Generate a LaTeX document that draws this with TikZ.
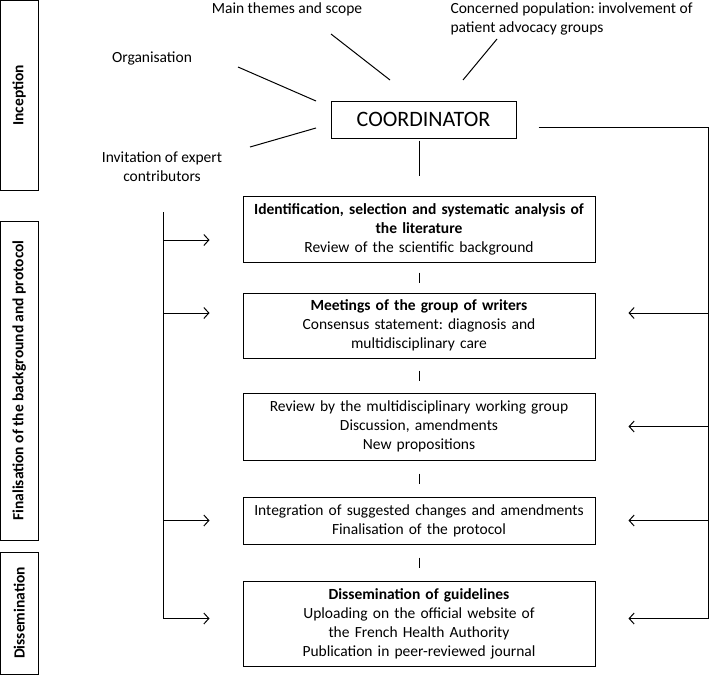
\documentclass[tikz,border=0pt]{standalone}
\usepackage{fontspec}
\setmainfont{Carlito}
\frenchspacing
\usetikzlibrary{arrows.meta,calc,positioning}

\begin{document}
\begin{tikzpicture}[
    x=1pt,
    y=-1pt,
    >={Straight Barb[length=5pt,width=11pt]},
    line width=1pt,
    txt/.style={font=\fontsize{15.5}{19}\selectfont, align=center, inner sep=0},
    box/.style={txt, draw, text width=340pt, inner xsep=6pt},
    side/.style={draw, rotate=90, inner sep=0, minimum height=37.5pt,
        font=\fontsize{15.5}{19}\selectfont\bfseries}
]

\useasboundingbox (0,0) rectangle (709,675);

% Fasi a sinistra
\node[side, minimum width=189.5pt] (inception) at (19.25,95.25) {Inception};
\node[side, minimum width=319pt] (finalisation) at (19.25,380.5) {Finalisation of the background and protocol};
\node[side, minimum width=122pt] (dissemination) at (19.25,613) {Dissemination};

% Coordinatore e temi
\node[txt, draw, font=\fontsize{22}{26}\selectfont, minimum width=185pt, minimum height=37pt]
    (coordinator) at (423.5,119.5) {COORDINATOR};

\node[txt] (themes) at (287,9) {Main themes and scope};
\node[txt, align=left, anchor=west] (population) at (450,18.5)
    {Concerned population: involvement of\\patient advocacy groups};
\node[txt] (organisation) at (152,58) {Organisation};
\node[txt] (invitation) at (162,166.5) {Invitation of expert\\contributors};

\coordinate (org-a) at (238,67);   \coordinate (org-b) at (316,101);
\coordinate (thm-a) at (331,34);   \coordinate (thm-b) at (390,80);
\coordinate (pop-a) at (497,39);   \coordinate (pop-b) at (463,80);
\coordinate (inv-a) at (250,147);  \coordinate (inv-b) at (316,128);

\draw (org-a) -- (org-b);
\draw (thm-a) -- (thm-b);
\draw (pop-a) -- (pop-b);
\draw (inv-a) -- (inv-b);

% Passaggi
\node[box, minimum height=66pt] (literature) at (419,229)
    {\textbf{Identification, selection and systematic analysis of}\\
     \textbf{the literature}\\Review of the scientific background};
\node[box, minimum height=65pt] (writers) at (419,325.5)
    {\textbf{Meetings of the group of writers}\\Consensus statement: diagnosis and\\multidisciplinary care};
\node[box, minimum height=67pt] (review) at (419,426.5)
    {Review by the multidisciplinary working group\\Discussion, amendments\\New propositions};
\node[box, minimum height=47pt] (integration) at (419,520.5)
    {Integration of suggested changes and amendments\\Finalisation of the protocol};
\node[box, minimum height=85pt] (guidelines) at (419,623.5)
    {\textbf{Dissemination of guidelines}\\Uploading on the official website of\\the French Health Authority\\Publication in peer-reviewed journal};

% Collegamenti
\draw[shorten <=2pt, shorten >=20pt] (literature.north |- coordinator.south) -- (literature.north);

\foreach \a/\b in {literature/writers, writers/review, review/integration, integration/guidelines}
    \draw ($(\a.south)!.5!(\b.north)$) +(0,-5) -- +(0,5);

% Linea a sinistra
\coordinate (ltop) at (163,212);
\coordinate (lbot) at (163,618.5);
\draw (ltop) -- (lbot);
\foreach \n/\dy in {literature/-11, writers/12.5, integration/0, guidelines/5}{
    \path ([yshift=\dy pt]\n.west) coordinate (p);
    \draw[->, shorten >=33pt] (ltop |- p) -- (p);
}

% Linea a destra
\coordinate (rbot) at (708,618.5);
\draw ([shift={(22pt,-7.5pt)}]coordinator.east) -| (rbot);
\foreach \n/\dy in {writers/12.5, review/0, integration/0, guidelines/5}{
    \path ([yshift=\dy pt]\n.east) coordinate (p);
    \draw[->, shorten >=33pt] (rbot |- p) -- (p);
}

\end{tikzpicture}
\end{document}
